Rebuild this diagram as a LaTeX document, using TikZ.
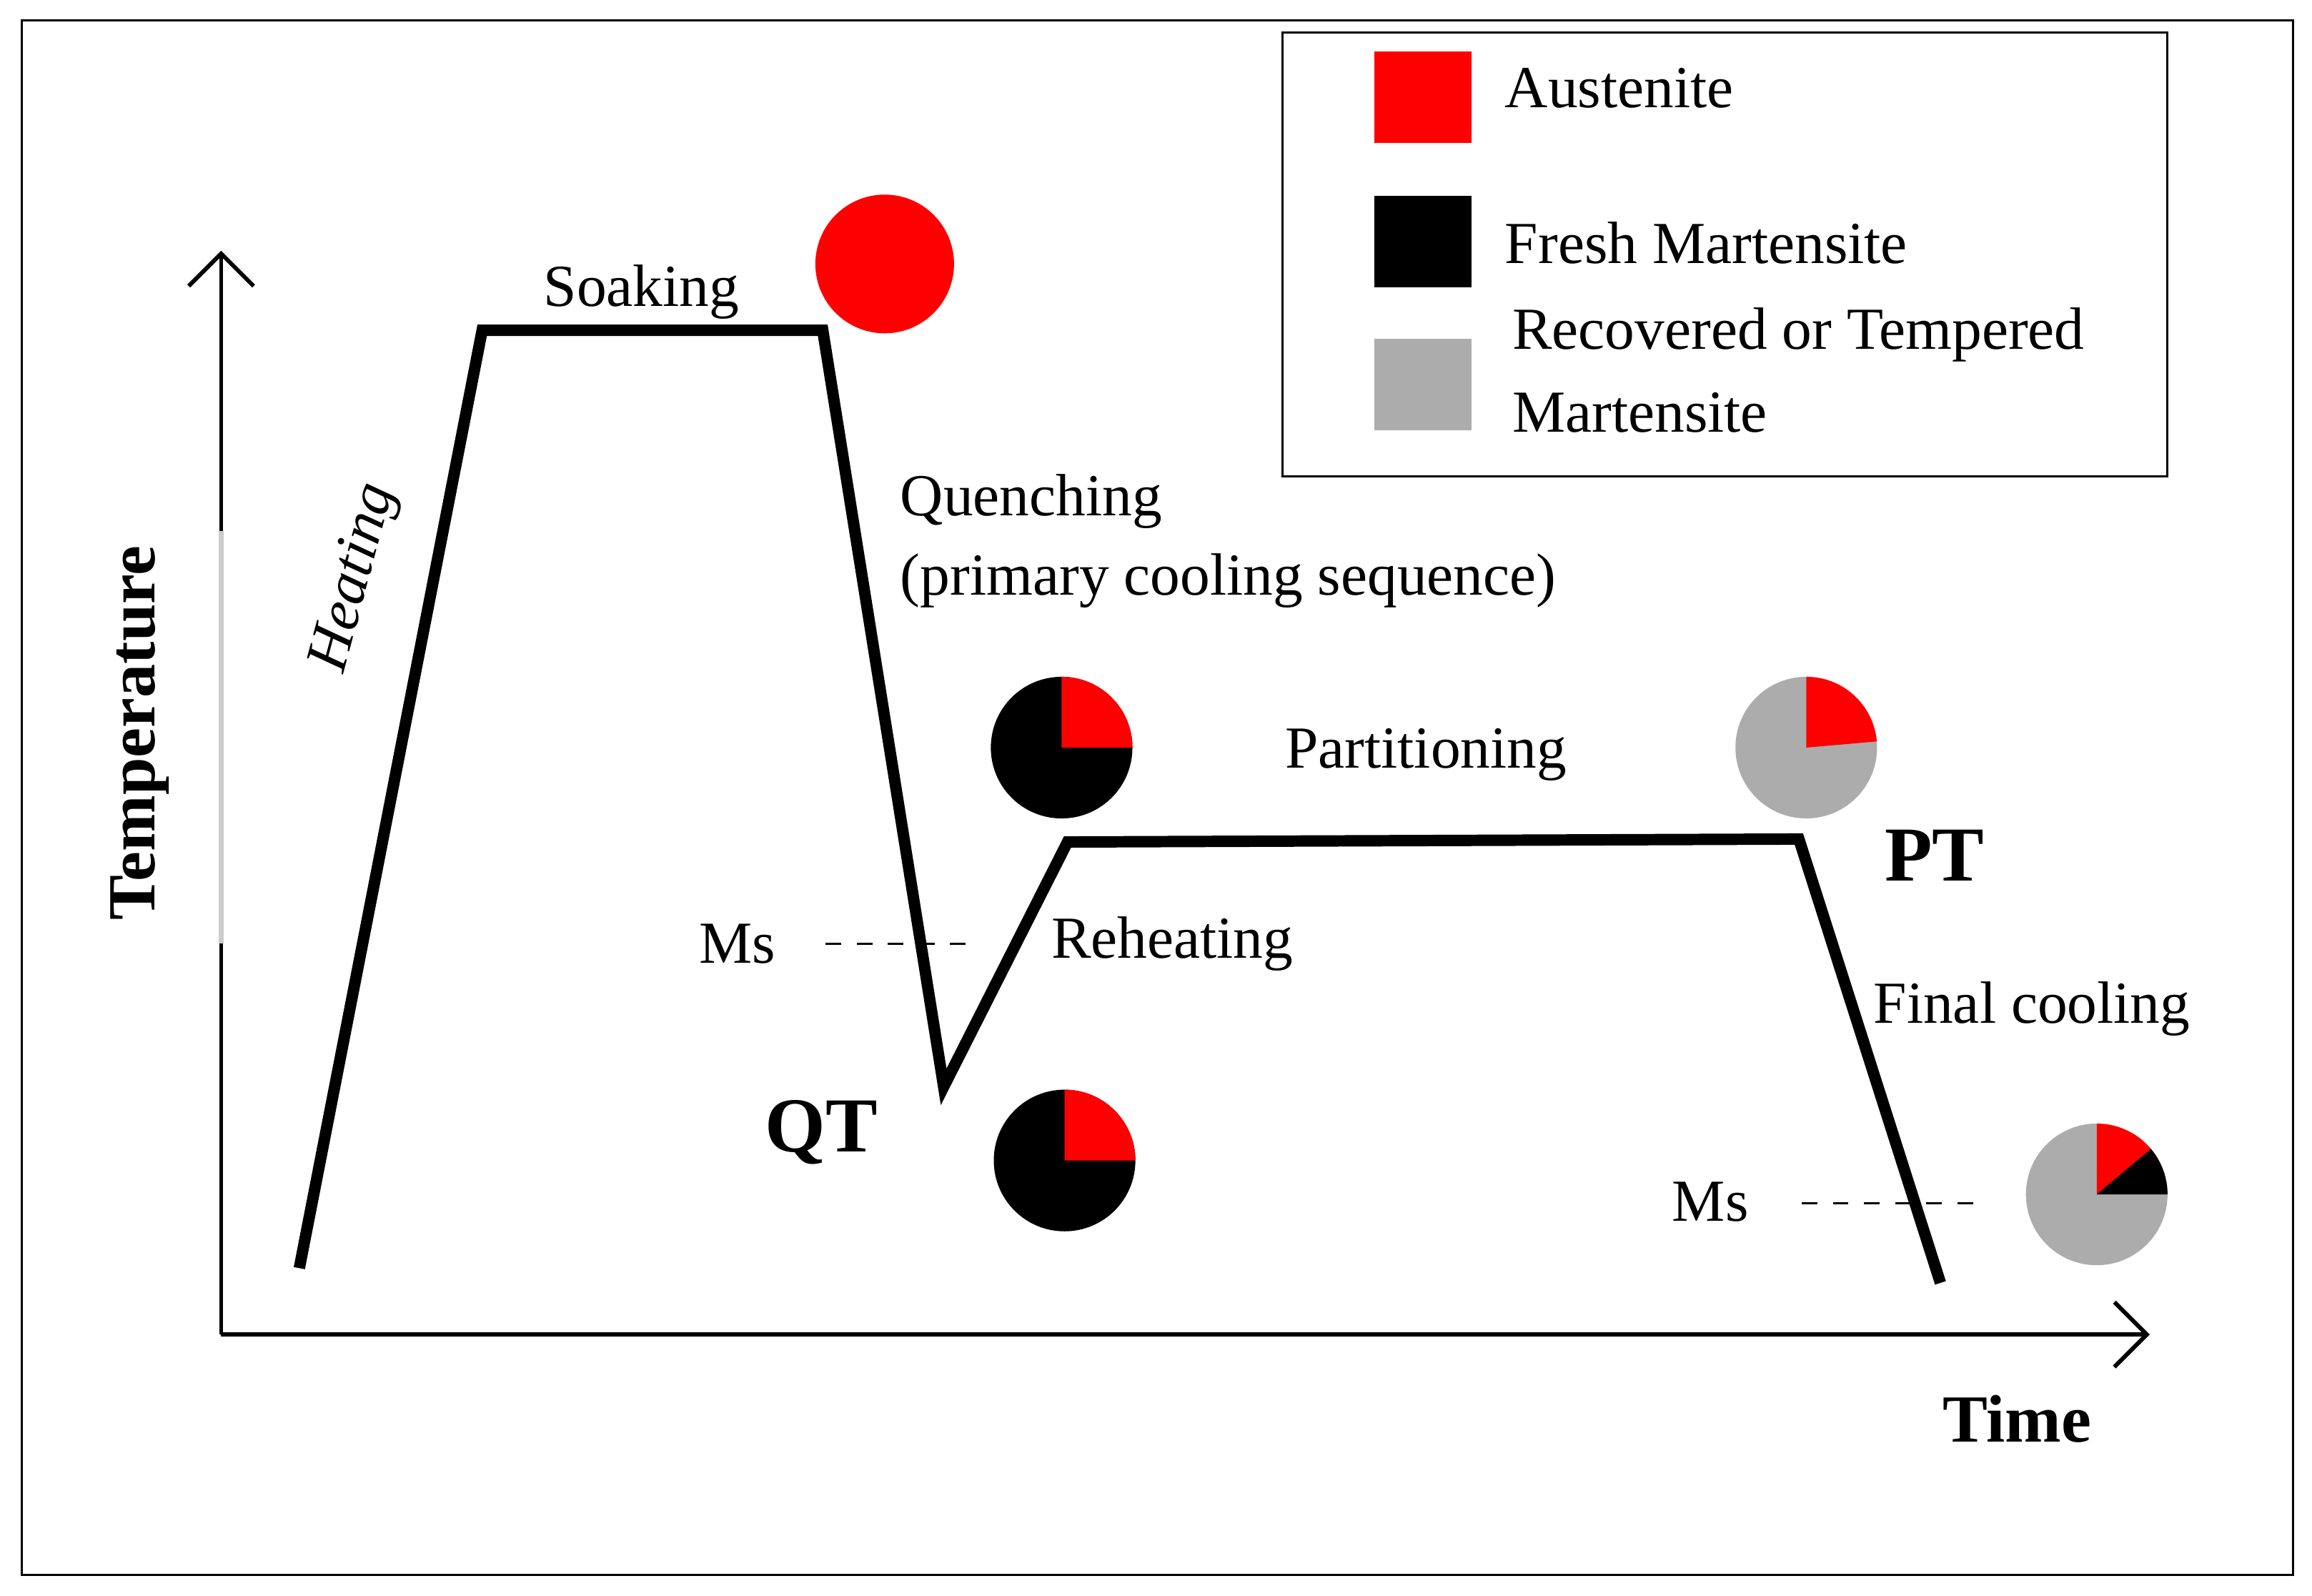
\documentclass[tikz,border=0pt]{standalone}
\usepackage{fontspec}
\setmainfont{Liberation Serif}
\usetikzlibrary{positioning,calc,arrows.meta}

\begin{document}
\begin{tikzpicture}[
    x=0.01cm, y=-0.01cm,
    lbl/.style={font=\fontsize{11.5}{13}\selectfont, inner sep=0pt},
    big/.style={font=\fontsize{15}{17}\selectfont\bfseries, inner sep=0pt},
    curve/.style={line width=2.2pt, line join=miter},
    ms/.style={dashed, thin},
    axis/.style={-{Straight Barb[length=2.2mm, width=4.4mm]}, line width=0.8pt},
    swatch/.style={minimum width=0.66cm, minimum height=0.62cm, inner sep=0pt}
]
\useasboundingbox (0,0) rectangle (1568,1082);

% Frame
\draw[thin] (15,14) rectangle (1555,1068);

% Axes
\coordinate (origin) at (150,905);
\coordinate (ytop) at (150,170);
\coordinate (xend) at (1458,905);
\draw[axis] (origin) -- (ytop);
\draw[white, line width=1.2pt] (150,360) -- (150,640);
\draw[gray!40, line width=1pt] (150,360) -- (150,640);
\draw[axis] (origin) -- (xend);
\node[font=\fontsize{13}{15}\selectfont\bfseries, inner sep=0pt, rotate=90] (temp) at (95,497) {Temperature};
\node[font=\fontsize{13}{15}\selectfont\bfseries, inner sep=0pt] (time) at (1368,962) {Time};

% Heat treatment path
\coordinate (start) at (203,860);
\coordinate (soak1) at (327,224);
\coordinate (soak2) at (558,224);
\coordinate (qt) at (640,737);
\coordinate (part1) at (724,571);
\coordinate (part2) at (1220,569);
\coordinate (finish) at (1316,870);
\draw[curve] (start) -- (soak1) -- (soak2) -- (qt) -- (part1) -- (part2) -- (finish);

% Labels
\node[lbl] (soaking) at (435,198) {Soaking};
\node[lbl, rotate=75, font=\fontsize{11.5}{13}\selectfont\itshape] (heating) at (241,392) {Heating};
\node[lbl, anchor=west] (quench) at (610,340) {Quenching};
\node[lbl, anchor=west] (primary) at (610,394) {(primary cooling sequence)};
\node[lbl] (partition) at (967,512) {Partitioning};
\node[lbl] (reheat) at (795,640) {Reheating};
\node[lbl] (final) at (1378,684) {Final cooling};
\node[big] (ptlbl) at (1312,580) {PT};
\node[big] (qtlbl) at (557,768) {QT};

% Ms lines
\node[lbl] (ms1) at (500,640) {Ms};
\coordinate (ms1a) at (560,640);
\coordinate (ms1b) at (655,640);
\draw[ms] (ms1a) -- (ms1b);
\node[lbl] (ms2) at (1160,815) {Ms};
\coordinate (ms2a) at (1222,816);
\coordinate (ms2b) at (1342,816);
\draw[ms] (ms2a) -- (ms2b);

% Phase pies
\fill[red] (600,179) circle (0.47cm);
\coordinate (pie1) at (720,507);
\fill[black] (pie1) circle (0.48cm);
\fill[red] (pie1) -- ++(90:0.48cm) arc[start angle=90, end angle=0, radius=0.48cm] -- cycle;
\coordinate (pie2) at (722,787);
\fill[black] (pie2) circle (0.48cm);
\fill[red] (pie2) -- ++(90:0.48cm) arc[start angle=90, end angle=0, radius=0.48cm] -- cycle;
\coordinate (pie3) at (1225,507);
\fill[gray!65] (pie3) circle (0.48cm);
\fill[red] (pie3) -- ++(90:0.48cm) arc[start angle=90, end angle=5, radius=0.48cm] -- cycle;
\coordinate (pie4) at (1422,810);
\fill[gray!65] (pie4) circle (0.48cm);
\fill[red] (pie4) -- ++(90:0.48cm) arc[start angle=90, end angle=40, radius=0.48cm] -- cycle;
\fill[black] (pie4) -- ++(40:0.48cm) arc[start angle=40, end angle=0, radius=0.48cm] -- cycle;

% Legend
\draw[thin] (870,22) rectangle (1470,323);
\node[swatch, fill=red] (austen) at (965,66) {};
\node[swatch, fill=black] (fresh) at (965,164) {};
\node[swatch, fill=gray!65] (temper) at (965,261) {};
\node[lbl, anchor=west] (austenl) at (1020,60) {Austenite};
\node[lbl, anchor=west] (freshl) at (1020,165) {Fresh Martensite};
\node[lbl, anchor=west] (temperl) at (1025,227) {Recovered or Tempered};
\node[lbl, anchor=west] (temperl2) at (1025,280) {Martensite};

\end{tikzpicture}
\end{document}
